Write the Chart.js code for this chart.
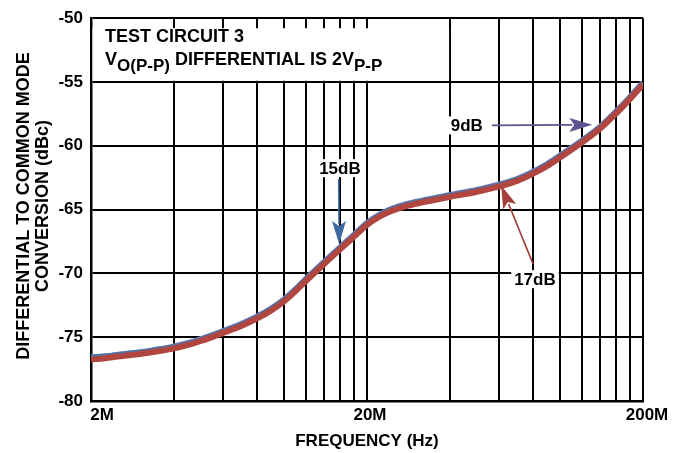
<!DOCTYPE html>
<html>
<head>
<meta charset="utf-8">
<script src="https://cdn.jsdelivr.net/npm/chart.js@4"></script>
<style>
  html, body { margin: 0; padding: 0; background: #fff; }
  #wrap { width: 683px; height: 453px; }
</style>
</head>
<body>
<div id="wrap"><canvas id="myChart" width="683" height="453"></canvas></div>
<script>
// frequency in MHz
const freqMHz = [2, 2.25, 2.5, 2.75, 3, 3.5, 4, 4.5, 5, 6, 7, 8, 9, 10, 11, 12, 14, 16, 18, 20,
    22, 24, 27, 30, 35, 40, 50, 60, 70, 80, 90, 100, 120, 140, 160, 180, 200];

// 17dB (red)
const gain17 = [-76.75, -76.65, -76.52, -76.42, -76.32, -76.1, -75.88, -75.6, -75.3, -74.68, -74.12, -73.53, -72.9, -72.2, -71.4, -70.6, -69.25, -68.1, -67.1, -66.2,
    -65.6, -65.18, -64.8, -64.55, -64.25, -64.0, -63.6, -63.2, -62.75, -62.18, -61.58, -60.92, -59.75, -58.65, -57.45, -56.3, -55.2];

// 15dB (blue)
const gain15 = [-76.6, -76.5, -76.42, -76.27, -76.22, -75.97, -75.78, -75.5, -75.2, -74.58, -74.02, -73.43, -72.8, -72.1, -71.3, -70.5, -69.15, -68.0, -67.0, -66.1,
    -65.5, -65.08, -64.7, -64.45, -64.15, -63.9, -63.5, -63.1, -62.65, -62.08, -61.48, -60.82, -59.65, -58.55, -57.35, -56.2, -55.1];

// 9dB (purple)
const gain9 = [-76.55, -76.55, -76.37, -76.32, -76.17, -76.0, -75.73, -75.45, -75.15, -74.53, -73.97, -73.38, -72.75, -72.05, -71.25, -70.45, -69.1, -67.95, -66.95, -66.05,
    -65.45, -65.03, -64.65, -64.4, -64.1, -63.85, -63.45, -63.05, -62.6, -62.03, -61.43, -60.77, -59.6, -58.5, -57.3, -56.15, -55.05];

// grid positions on the x axis (MHz) and labelled ones
const xGridMHz = [2, 4, 6, 8, 10, 12, 14, 16, 18, 20, 40, 60, 80, 100, 120, 140, 160, 180, 200];
const xLabels = [{ v: 2, t: '2M', dx: 11 }, { v: 20, t: '20M', dx: 3 }, { v: 200, t: '200M', dx: 4 }];

const yTicks = [-80, -75, -70, -65, -60, -55, -50];

const FONT = "'Liberation Sans', Arial, sans-serif";

function pts(vals) {
    return freqMHz.map((f, i) => ({ x: f * 1e6, y: vals[i] }));
}

// annotations in data coordinates (MHz, dBc)
const notes = [
    { text: '15dB', at: [15.96, -61.75], from: [15.8, -62.6], to: [15.85, -67.7], color: '#3f6aa1' },
    { text: '9dB', at: [46, -58.4], from: [56.7, -58.4], to: [131, -58.35], color: '#5d5290' },
    { text: '17dB', at: [81.2, -70.45], from: [79.9, -69.25], to: [61.2, -63.1], color: '#a3403e' }
];

const decor = {
    id: 'decor',
    beforeDatasetsDraw(chart) {
        const { ctx, scales: { x, y }, chartArea: a } = chart;
        // white box for the condition text
        ctx.save();
        ctx.fillStyle = '#fff';
        const bx0 = a.left + 1.5, bx1 = x.getPixelForValue(40e6) - 1;
        const by0 = y.getPixelForValue(-50) + 10, by1 = y.getPixelForValue(-55) - 1.2;
        ctx.fillRect(bx0, by0, bx1 - bx0, by1 - by0);
        ctx.fillStyle = '#000';
        ctx.textBaseline = 'alphabetic';
        ctx.textAlign = 'left';
        ctx.font = 'bold 18px ' + FONT;
        ctx.fillText('TEST CIRCUIT 3', 105, 42);
        let px = 105;
        ctx.fillText('V', px, 65);
        px += ctx.measureText('V').width;
        ctx.font = 'bold 17px ' + FONT;
        ctx.fillText('O(P-P)', px, 71);
        px += ctx.measureText('O(P-P)').width;
        ctx.font = 'bold 18px ' + FONT;
        ctx.fillText(' DIFFERENTIAL IS 2V', px, 65);
        px += ctx.measureText(' DIFFERENTIAL IS 2V').width;
        ctx.font = 'bold 17px ' + FONT;
        ctx.fillText('P-P', px, 71);

        // x tick labels
        ctx.font = 'bold 17px ' + FONT;
        ctx.textAlign = 'center';
        ctx.textBaseline = 'middle';
        xLabels.forEach(l => {
            ctx.fillText(l.t, x.getPixelForValue(l.v * 1e6) + l.dx, 415);
        });
        // axis titles
        ctx.fillText('FREQUENCY (Hz)', (a.left + a.right) / 2, 441);
        ctx.font = 'bold 18px ' + FONT;
        ctx.translate(24, 206);
        ctx.rotate(-Math.PI / 2);
        ctx.fillText('DIFFERENTIAL TO COMMON MODE', 0, 0);
        ctx.fillText('CONVERSION (dBc)', 0, 19);
        ctx.restore();
    },
    afterDatasetsDraw(chart) {
        const { ctx, scales: { x, y } } = chart;
        ctx.save();
        ctx.font = 'bold 17px ' + FONT;
        ctx.textAlign = 'center';
        ctx.textBaseline = 'middle';
        notes.forEach(n => {
            const tx = x.getPixelForValue(n.at[0] * 1e6), ty = y.getPixelForValue(n.at[1]);
            const w = ctx.measureText(n.text).width;
            ctx.fillStyle = '#fff';
            ctx.fillRect(tx - w / 2 - 3, ty - 9, w + 6, 18);
            ctx.fillStyle = '#000';
            ctx.fillText(n.text, tx, ty + 1);

            const x0 = x.getPixelForValue(n.from[0] * 1e6), y0 = y.getPixelForValue(n.from[1]);
            const x1 = x.getPixelForValue(n.to[0] * 1e6), y1 = y.getPixelForValue(n.to[1]);
            const ang = Math.atan2(y1 - y0, x1 - x0);
            const hl = 20, hw = 7;
            const bxp = x1 - hl * Math.cos(ang), byp = y1 - hl * Math.sin(ang);
            ctx.strokeStyle = n.color;
            ctx.lineWidth = 1.6;
            ctx.beginPath();
            ctx.moveTo(x0, y0);
            ctx.lineTo(bxp, byp);
            ctx.stroke();
            ctx.fillStyle = n.color;
            ctx.beginPath();
            ctx.moveTo(x1, y1);
            ctx.lineTo(bxp + hw * Math.sin(ang) - 3 * Math.cos(ang), byp - hw * Math.cos(ang) - 3 * Math.sin(ang));
            ctx.lineTo(bxp + 2 * Math.cos(ang), byp + 2 * Math.sin(ang));
            ctx.lineTo(bxp - hw * Math.sin(ang) - 3 * Math.cos(ang), byp + hw * Math.cos(ang) - 3 * Math.sin(ang));
            ctx.closePath();
            ctx.fill();
        });
        ctx.restore();
    }
};

const ctx = document.getElementById('myChart').getContext('2d');
const myChart = new Chart(ctx, {
    type: 'line',
    data: {
        datasets: [{
                label: '17dB',
                data: pts(gain17),
                borderColor: '#b0463f',
                borderWidth: 6,
                pointRadius: 0,
                cubicInterpolationMode: 'monotone',
                order: 1
            },
            {
                label: '15dB',
                data: pts(gain15),
                borderColor: '#4a74a8',
                borderWidth: 6,
                pointRadius: 0,
                cubicInterpolationMode: 'monotone',
                order: 2
            },
            {
                label: '9dB',
                data: pts(gain9),
                borderColor: '#8a80b8',
                borderWidth: 6,
                pointRadius: 0,
                cubicInterpolationMode: 'monotone',
                order: 3
            }
        ]
    },
    options: {
        responsive: false,
        animation: false,
        layout: { padding: { top: 16, right: 40, left: 0, bottom: 0 } },
        plugins: { legend: { display: false }, tooltip: { enabled: false } },
        scales: {
            x: {
                type: 'logarithmic',
                min: 2e6,
                max: 2e8,
                afterBuildTicks: (s) => { s.ticks = xGridMHz.map(v => ({ value: v * 1e6 })); },
                afterFit: (s) => { s.height = 52; },
                ticks: { display: false },
                grid: { color: '#000', lineWidth: 2, drawTicks: false },
                border: { color: '#000', width: 2.5 }
            },
            y: {
                min: -80,
                max: -50,
                afterBuildTicks: (s) => { s.ticks = yTicks.map(v => ({ value: v })); },
                afterFit: (s) => { s.width = 91; },
                ticks: {
                    color: '#000',
                    padding: 8,
                    font: { family: FONT, size: 17, weight: 'bold' }
                },
                grid: { color: '#000', lineWidth: 2, drawTicks: false },
                border: { color: '#000', width: 2.5 }
            }
        }
    },
    plugins: [decor]
});
</script>
</body>
</html>
